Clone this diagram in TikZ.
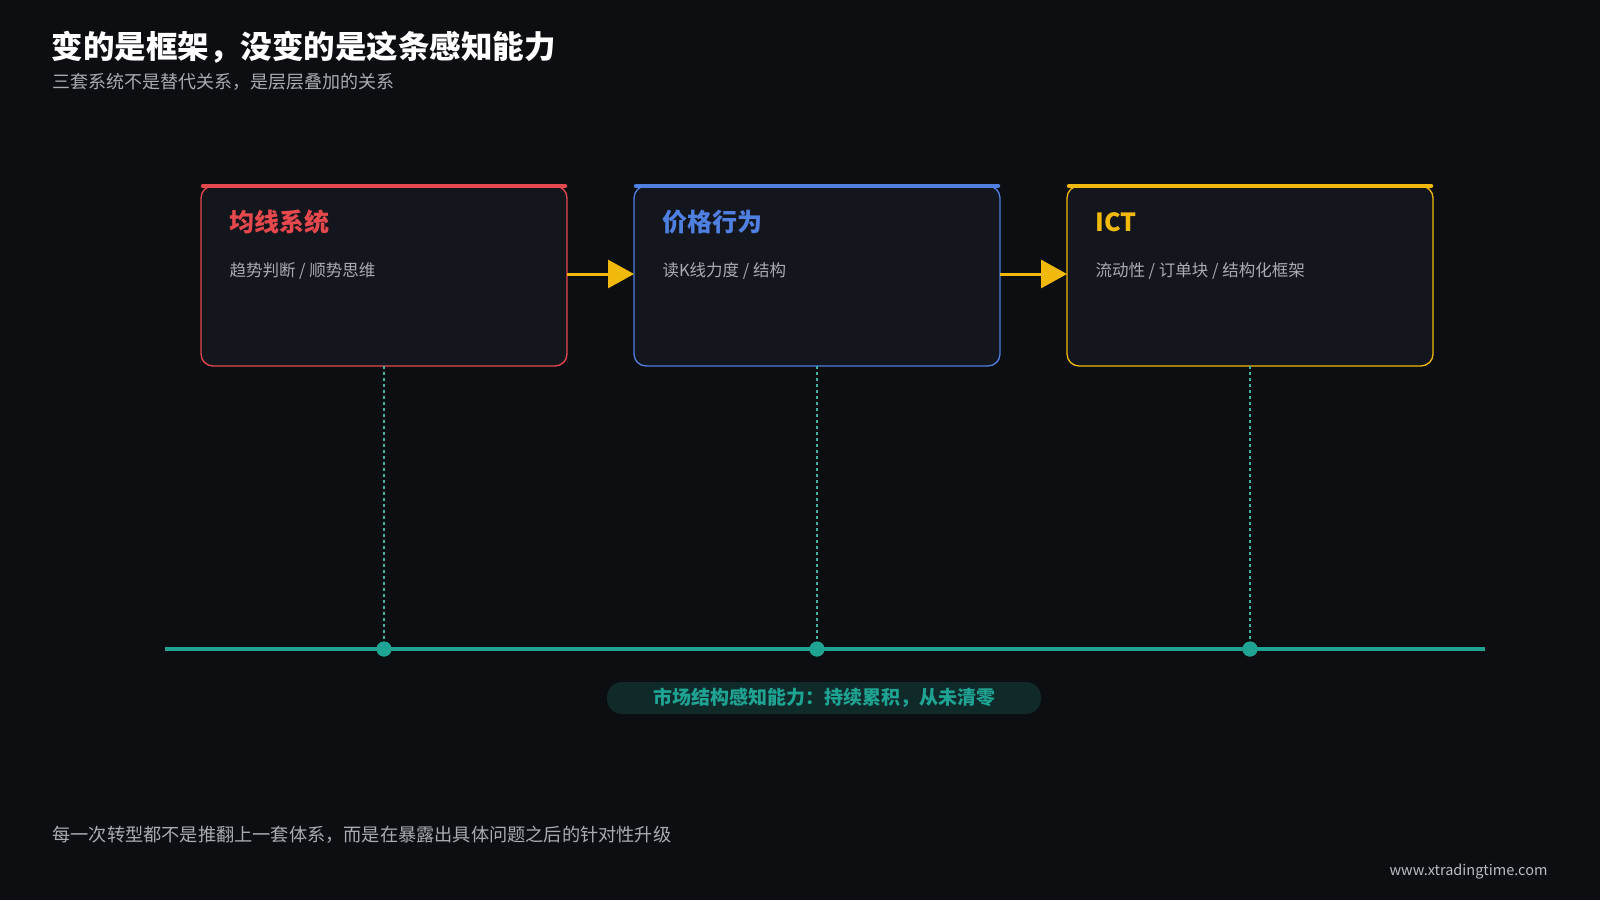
\documentclass[tikz,border=0pt]{standalone}
\usepackage{fontspec}
\setmainfont{Noto Sans CJK SC}
\usetikzlibrary{arrows.meta}
\definecolor{bg}{HTML}{0D0E12}
\definecolor{boxbg}{HTML}{13161C}
\definecolor{cred}{HTML}{E5484D}
\definecolor{cblue}{HTML}{4F7FE0}
\definecolor{cyel}{HTML}{F0B90B}
\definecolor{teal}{HTML}{1FA393}
\definecolor{tgray}{HTML}{A8ABB2}
\begin{document}
\begin{tikzpicture}[x=1pt,y=-1pt,
  box/.style={draw=#1,line width=1.3pt,fill=boxbg,rounded corners=12pt},
  topbar/.style={#1,line width=4.5pt,line cap=round},
  btitle/.style={anchor=west,font=\fontsize{25}{29}\selectfont\bfseries},
  bsub/.style={anchor=west,text=tgray,font=\fontsize{16.5}{19}\selectfont},
  flow/.style={cyel,line width=3pt,-{Triangle[length=26pt,width=28pt]}},
  vdash/.style={teal!85,dashed,dash pattern=on 3pt off 3pt,line width=1.1pt},
  dot/.style={circle,fill=teal,inner sep=0pt,minimum size=15pt}]
\fill[bg] (0,0) rectangle (1600,900);
\useasboundingbox (0,0) rectangle (1600,900);
\node[anchor=west,text=white,font=\fontsize{31.5}{36}\selectfont\bfseries] (title) at (48,47) {变的是框架，没变的是这条感知能力};
\node[anchor=west,text=tgray,font=\fontsize{18}{21}\selectfont] (sub) at (49,82) {三套系统不是替代关系，是层层叠加的关系};
% boxes
\foreach \n/\x/\c in {a/201/cred,b/634/cblue,c/1067/cyel}{
  \draw[box=\c] (\x,186) rectangle ++(366,180);
  \draw[topbar=\c] (\x+2,186) -- (\x+364,186);
  \coordinate (\n L) at (\x,274);
  \coordinate (\n R) at (\x+366,274);
  \coordinate (\n B) at (\x+183,366);
  \node[dot] (\n D) at (\x+183,649) {};
  \draw[vdash] (\n B) -- (\n D);
}
\node[btitle,text=cred] (t1) at (226,222) {均线系统};
\node[bsub] (s1) at (226,271) {趋势判断 / 顺势思维};
\node[btitle,text=cblue] (t2) at (659,222) {价格行为};
\node[bsub] (s2) at (659,271) {读K线力度 / 结构};
\node[btitle,text=cyel] (t3) at (1092,222) {ICT};
\node[bsub] (s3) at (1092,271) {流动性 / 订单块 / 结构化框架};
\draw[flow] (aR) -- (bL);
\draw[flow] (bR) -- (cL);
\coordinate (tl0) at (165,649);
\coordinate (tl1) at (1485,649);
\draw[teal,line width=3.5pt] (tl0) -- (tl1);
\foreach \n in {a,b,c} \node[dot] at (\n D) {};
\node[fill=teal!18!bg,rounded corners=15pt,minimum width=434pt,minimum height=32pt,text=teal,font=\fontsize{19}{23}\selectfont\bfseries] (pill) at (824,698) {市场结构感知能力：持续累积，从未清零};
\node[anchor=west,text=tgray,font=\fontsize{18.2}{21}\selectfont] (foot) at (49,835) {每一次转型都不是推翻上一套体系，而是在暴露出具体问题之后的针对性升级};
\node[anchor=east,text=tgray!80,font=\fontsize{14.5}{17}\selectfont] (url) at (1551,872) {www.xtradingtime.com};
\end{tikzpicture}
\end{document}
